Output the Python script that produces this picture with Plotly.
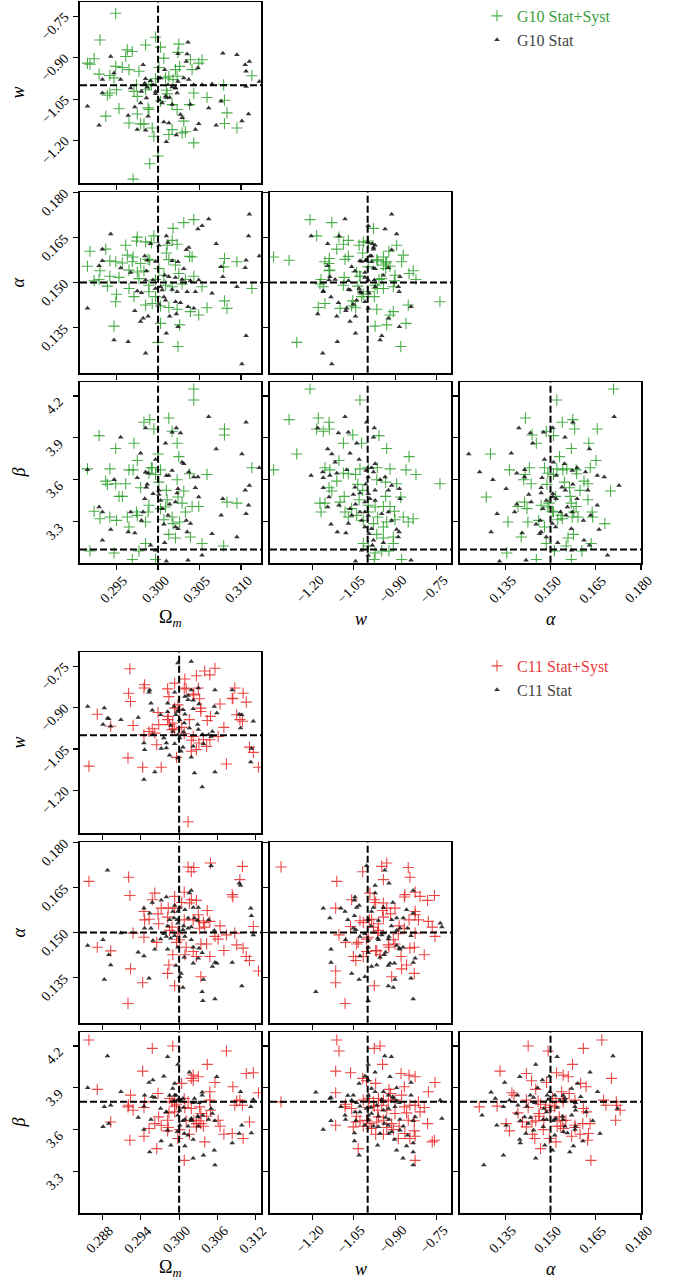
import plotly.graph_objects as go

# ---------------- data ----------------
# G10 Stat+Syst : (Omega_m, alpha), (w, beta) from the w-beta panel
G10_SYST_OM = [0.3043, 0.3031, 0.3018, 0.2975, 0.2974, 0.2995, 0.2961, 0.2985, 0.2992, 0.3017,
               0.3023, 0.3011, 0.2918, 0.2937, 0.2963, 0.2970, 0.2988, 0.2990, 0.3010, 0.3013,
               0.3038, 0.3041, 0.3080, 0.3095, 0.3079, 0.2915, 0.2942, 0.2949, 0.2957, 0.2969,
               0.2979, 0.2930, 0.2965, 0.2975, 0.2983, 0.3001, 0.3021, 0.2942, 0.2923, 0.2929,
               0.2953, 0.2977, 0.2997, 0.3007, 0.3025, 0.3033, 0.3043, 0.2939, 0.2965, 0.2989,
               0.3009, 0.3017, 0.3029, 0.3053, 0.3113, 0.2950, 0.2971, 0.2989, 0.2997, 0.2949,
               0.2985, 0.2993, 0.3003, 0.3013, 0.3023, 0.3039, 0.3059, 0.3049, 0.3080, 0.3083,
               0.2947, 0.3003, 0.3026, 0.3000, 0.3024]
G10_SYST_AL = [0.1709, 0.1699, 0.1680, 0.1651, 0.1638, 0.1655, 0.1624, 0.1635, 0.1632, 0.1640,
               0.1627, 0.1624, 0.1604, 0.1611, 0.1591, 0.1585, 0.1577, 0.1574, 0.1598, 0.1576,
               0.1587, 0.1585, 0.1580, 0.1569, 0.1552, 0.1554, 0.1572, 0.1569, 0.1565, 0.1569,
               0.1563, 0.1539, 0.1541, 0.1535, 0.1539, 0.1546, 0.1558, 0.1521, 0.1506, 0.1510,
               0.1517, 0.1513, 0.1510, 0.1524, 0.1530, 0.1510, 0.1521, 0.1488, 0.1480, 0.1491,
               0.1491, 0.1486, 0.1495, 0.1486, 0.1480, 0.1461, 0.1453, 0.1469, 0.1453, 0.1436,
               0.1425, 0.1430, 0.1422, 0.1417, 0.1411, 0.1403, 0.1416, 0.1392, 0.1439, 0.1414,
               0.1355, 0.1364, 0.1359, 0.1301, 0.1287]
G10_SYST_W = [-1.209, -1.028, -1.285, -1.179, -1.140, -1.185, -1.161, -1.139, -1.054, -0.959,
              -1.088, -1.022, -0.931, -1.257, -0.850, -1.341, -1.155, -1.137, -1.104, -1.088,
              -1.070, -1.044, -1.028, -0.998, -0.965, -0.919, -0.861, -0.825, -1.112, -0.738,
              -1.140, -1.130, -1.036, -1.018, -0.967, -0.935, -0.895, -1.173, -1.155, -1.100,
              -1.085, -1.031, -0.998, -0.935, -0.880, -1.169, -1.082, -1.058, -1.040, -0.998,
              -0.973, -0.943, -0.919, -0.903, -1.070, -1.016, -0.964, -0.931, -0.901, -0.871,
              -0.853, -0.835, -0.979, -0.943, -0.967, -0.907, -0.943, -1.016, -0.907, -0.998,
              -0.973, -0.949, -0.923, -0.976, -0.877]
G10_SYST_BE = [4.250, 4.171, 4.031, 4.042, 4.012, 3.964, 3.947, 3.964, 3.921, 3.916,
               3.862, 3.862, 3.824, 3.785, 3.766, 3.671, 3.686, 3.671, 3.738, 3.647,
               3.643, 3.638, 3.678, 3.686, 3.686, 3.678, 3.671, 3.638, 3.590, 3.571,
               3.543, 3.519, 3.567, 3.524, 3.600, 3.583, 3.571, 3.433, 3.433, 3.440,
               3.481, 3.457, 3.417, 3.481, 3.476, 3.369, 3.369, 3.393, 3.345, 3.369,
               3.405, 3.409, 3.409, 3.374, 3.333, 3.309, 3.333, 3.298, 3.314, 3.333,
               3.298, 3.321, 3.286, 3.262, 3.209, 3.190, 3.183, 3.143, 3.143, 3.126,
               3.076, 3.090, 3.090, 3.029, 3.029]

# G10 Stat
G10_STAT_OM = [0.3061, 0.3110, 0.3053, 0.3048, 0.2943, 0.3010, 0.3012, 0.3070, 0.3109, 0.2991,
               0.3001, 0.2933, 0.3037, 0.3034, 0.3122, 0.2933, 0.2955, 0.2929, 0.2984, 0.2987,
               0.2997, 0.3017, 0.3024, 0.3031, 0.3076, 0.3106, 0.3105, 0.2967, 0.2986, 0.3008,
               0.3013, 0.3021, 0.3029, 0.3078, 0.2985, 0.2994, 0.3039, 0.3049, 0.3095, 0.2975,
               0.2980, 0.2997, 0.3003, 0.3017, 0.3023, 0.3035, 0.3045, 0.3065, 0.2915, 0.3007,
               0.3009, 0.3021, 0.3027, 0.3001, 0.3036, 0.3043, 0.2972, 0.2988, 0.2982, 0.2979,
               0.3014, 0.3022, 0.3024, 0.3010, 0.2947, 0.2964, 0.2985, 0.3106, 0.3101, 0.3005]
G10_STAT_AL = [0.1711, 0.1727, 0.1689, 0.1678, 0.1661, 0.1655, 0.1633, 0.1629, 0.1655, 0.1629,
               0.1624, 0.1611, 0.1616, 0.1609, 0.1588, 0.1572, 0.1548, 0.1556, 0.1588, 0.1574,
               0.1570, 0.1572, 0.1569, 0.1546, 0.1552, 0.1574, 0.1549, 0.1533, 0.1538, 0.1524,
               0.1519, 0.1517, 0.1510, 0.1519, 0.1508, 0.1508, 0.1506, 0.1508, 0.1486, 0.1472,
               0.1466, 0.1480, 0.1486, 0.1477, 0.1469, 0.1469, 0.1469, 0.1464, 0.1414, 0.1452,
               0.1441, 0.1436, 0.1433, 0.1428, 0.1419, 0.1414, 0.1406, 0.1388, 0.1381, 0.1370,
               0.1388, 0.1395, 0.1353, 0.1331, 0.1309, 0.1303, 0.1265, 0.1323, 0.1229, 0.1475]
G10_STAT_W = [-1.082, -1.181, -1.106, -1.070, -0.976, -1.004, -0.979, -1.145, -1.130, -1.064,
              -1.040, -1.031, -1.118, -0.973, -0.986, -1.205, -1.163, -1.112, -1.076, -1.161,
              -1.137, -1.006, -0.979, -0.937, -0.955, -0.998, -1.161, -1.140, -1.046, -1.007,
              -0.973, -0.913, -0.885, -1.052, -1.028, -0.998, -0.925, -1.145, -1.104, -1.064,
              -1.044, -1.010, -0.973, -0.883, -1.058, -1.028, -0.998, -0.949, -0.925, -1.133,
              -1.022, -1.010, -0.986, -0.913, -0.895, -1.110, -1.079, -0.995, -0.889, -0.943,
              -1.022, -0.979, -0.998, -1.044, -0.843, -0.886, -1.070, -1.010, -0.992, -0.983]
G10_STAT_BE = [4.052, 3.971, 3.935, 3.940, 3.971, 4.012, 3.904, 3.821, 3.785, 3.790,
               3.862, 3.745, 3.726, 3.714, 3.686, 3.631, 3.655, 3.647, 3.671, 3.614,
               3.631, 3.666, 3.655, 3.619, 3.600, 3.619, 3.543, 3.476, 3.547, 3.567,
               3.524, 3.559, 3.536, 3.495, 3.505, 3.500, 3.524, 3.405, 3.417, 3.393,
               3.424, 3.440, 3.452, 3.464, 3.345, 3.369, 3.345, 3.357, 3.369, 3.281,
               3.309, 3.262, 3.250, 3.309, 3.243, 3.226, 3.219, 3.214, 3.190, 3.148,
               3.095, 3.167, 3.060, 3.017, 3.024, 3.226, 3.286, 3.369, 3.464, 3.131]

# C11 Stat+Syst
C11_SYST_OM = [0.2859, 0.2921, 0.2923, 0.3014, 0.3023, 0.3019, 0.3049, 0.3099, 0.3095, 0.3083,
               0.3084, 0.2962, 0.2958, 0.2993, 0.3008, 0.3019, 0.3027, 0.3004, 0.2972, 0.2983,
               0.2993, 0.2945, 0.2967, 0.2982, 0.3044, 0.2946, 0.2953, 0.3008, 0.3016, 0.3022,
               0.3031, 0.2968, 0.3032, 0.3040, 0.3048, 0.3064, 0.3116, 0.2928, 0.2945, 0.2985,
               0.2998, 0.3056, 0.3061, 0.3074, 0.3087, 0.2965, 0.2996, 0.3011, 0.3022, 0.3034,
               0.3043, 0.3090, 0.3100, 0.2872, 0.2893, 0.2990, 0.3009, 0.3027, 0.3048, 0.3070,
               0.3105, 0.3110, 0.2984, 0.2924, 0.2982, 0.3124, 0.3034, 0.2943, 0.2993, 0.2920,
               0.2989, 0.3001, 0.3030, 0.3038]
C11_SYST_AL = [0.1670, 0.1684, 0.1623, 0.1718, 0.1716, 0.1702, 0.1731, 0.1720, 0.1676, 0.1626,
               0.1618, 0.1631, 0.1609, 0.1620, 0.1634, 0.1609, 0.1607, 0.1600, 0.1581, 0.1581,
               0.1581, 0.1570, 0.1562, 0.1551, 0.1573, 0.1542, 0.1544, 0.1542, 0.1598, 0.1542,
               0.1539, 0.1529, 0.1514, 0.1518, 0.1537, 0.1522, 0.1520, 0.1498, 0.1484, 0.1507,
               0.1496, 0.1487, 0.1478, 0.1492, 0.1498, 0.1467, 0.1467, 0.1451, 0.1437, 0.1462,
               0.1462, 0.1459, 0.1448, 0.1451, 0.1439, 0.1426, 0.1426, 0.1420, 0.1420, 0.1440,
               0.1420, 0.1407, 0.1392, 0.1379, 0.1364, 0.1372, 0.1353, 0.1333, 0.1323, 0.1264,
               0.1518, 0.1476, 0.1559, 0.1533]
C11_SYST_W = [-1.112, -1.104, -0.976, -0.955, -0.946, -1.116, -1.062, -1.018, -1.004, -0.971,
              -0.879, -0.850, -0.828, -0.756, -0.867, -0.923, -0.917, -1.116, -0.780, -1.314,
              -1.080, -1.058, -1.016, -0.994, -0.979, -0.961, -0.943, -0.925, -0.901, -0.877,
              -0.867, -0.847, -0.828, -0.810, -0.795, -0.816, -0.976, -0.964, -0.931, -0.901,
              -1.116, -1.043, -1.028, -1.016, -1.004, -0.992, -0.967, -0.943, -0.913, -0.886,
              -0.853, -0.831, -0.783, -0.971, -0.943, -0.907, -0.889, -0.865, -0.847, -0.828,
              -0.831, -0.766, -0.758, -1.034, -0.828, -1.052, -0.986, -1.082, -0.998, -0.949,
              -1.040, -0.931, -0.859, -0.961]
C11_SYST_BE = [4.243, 4.164, 4.183, 4.200, 4.068, 4.020, 4.008, 3.968, 3.951, 3.932,
               4.003, 3.991, 3.980, 3.939, 3.908, 3.889, 3.860, 3.865, 3.872, 3.800,
               3.783, 3.752, 3.812, 3.824, 3.800, 3.824, 3.812, 3.805, 3.812, 3.848,
               3.764, 3.776, 3.776, 3.728, 3.759, 3.800, 3.769, 3.740, 3.740, 3.716,
               3.632, 3.656, 3.664, 3.625, 3.668, 3.644, 3.656, 3.668, 3.644, 3.625,
               3.668, 3.664, 3.644, 3.568, 3.568, 3.601, 3.537, 3.573, 3.537, 3.554,
               3.592, 3.513, 3.525, 3.465, 3.381, 3.621, 3.609, 3.764, 3.759, 3.776,
               3.697, 3.616, 3.721, 3.692]

# C11 Stat
C11_STAT_OM = [0.2888, 0.3050, 0.3094, 0.3096, 0.3019, 0.3016, 0.2980, 0.2972, 0.2958, 0.2945,
               0.2993, 0.3001, 0.3009, 0.3022, 0.3030, 0.2990, 0.2998, 0.2954, 0.2992, 0.2997,
               0.3024, 0.3029, 0.3046, 0.3112, 0.3113, 0.2946, 0.2956, 0.2982, 0.3007, 0.3014,
               0.2909, 0.3019, 0.2976, 0.2980, 0.2987, 0.2993, 0.3006, 0.2959, 0.2971, 0.3055,
               0.3116, 0.2881, 0.2857, 0.3019, 0.3022, 0.3031, 0.2982, 0.2962, 0.2936, 0.2890,
               0.2945, 0.3008, 0.3036, 0.3030, 0.2998, 0.2893, 0.3022, 0.2995, 0.3056, 0.3059,
               0.3052, 0.3083, 0.3003, 0.3001, 0.2953, 0.2883, 0.3038, 0.3006, 0.3098, 0.3036,
               0.3037, 0.3056, 0.2998, 0.3014, 0.2985, 0.3009]
C11_STAT_AL = [0.1707, 0.1722, 0.1664, 0.1656, 0.1640, 0.1631, 0.1618, 0.1607, 0.1600, 0.1581,
               0.1590, 0.1583, 0.1576, 0.1583, 0.1583, 0.1570, 0.1570, 0.1564, 0.1548, 0.1542,
               0.1548, 0.1540, 0.1542, 0.1581, 0.1556, 0.1514, 0.1514, 0.1522, 0.1522, 0.1514,
               0.1498, 0.1518, 0.1496, 0.1487, 0.1481, 0.1489, 0.1509, 0.1473, 0.1478, 0.1507,
               0.1492, 0.1476, 0.1457, 0.1476, 0.1451, 0.1448, 0.1444, 0.1444, 0.1434, 0.1426,
               0.1422, 0.1418, 0.1433, 0.1414, 0.1451, 0.1392, 0.1398, 0.1390, 0.1400, 0.1398,
               0.1387, 0.1400, 0.1364, 0.1353, 0.1348, 0.1344, 0.1344, 0.1317, 0.1322, 0.1303,
               0.1273, 0.1279, 0.1531, 0.1548, 0.1542, 0.1487]
C11_STAT_W = [-0.938, -0.914, -0.998, -0.973, -1.010, -0.919, -1.031, -0.998, -0.843, -0.986,
              -0.895, -1.188, -1.137, -1.133, -1.072, -1.052, -0.998, -0.973, -0.943, -0.925,
              -0.909, -0.843, -1.058, -1.040, -0.949, -0.907, -0.895, -0.886, -0.737, -1.097,
              -1.028, -1.004, -0.988, -0.967, -1.046, -1.028, -0.986, -0.943, -0.925, -0.901,
              -1.082, -1.080, -0.998, -0.961, -0.935, -0.923, -0.883, -0.828, -0.835, -0.731,
              -1.133, -1.161, -1.043, -1.010, -0.979, -0.961, -0.925, -0.913, -0.883, -0.871,
              -1.048, -0.955, -0.923, -0.855, -0.903, -1.048, -0.964, -0.835, -0.859, -0.895,
              -1.031, -0.835, -0.872, -0.835, -0.998, -0.940]
C11_STAT_BE = [4.128, 4.123, 4.068, 4.011, 3.984, 3.980, 3.932, 3.956, 3.939, 3.896,
               3.901, 3.869, 3.824, 3.831, 3.845, 3.848, 3.848, 3.872, 3.872, 3.848,
               3.836, 3.848, 3.812, 3.793, 3.817, 3.824, 3.807, 3.793, 3.812, 3.764,
               3.769, 3.752, 3.759, 3.776, 3.728, 3.728, 3.716, 3.740, 3.752, 3.764,
               3.704, 3.673, 3.704, 3.697, 3.688, 3.673, 3.673, 3.692, 3.664, 3.680,
               3.664, 3.601, 3.664, 3.632, 3.625, 3.621, 3.632, 3.585, 3.597, 3.625,
               3.577, 3.573, 3.573, 3.561, 3.530, 3.520, 3.489, 3.506, 3.484, 3.453,
               3.417, 3.441, 3.396, 3.348, 3.673, 3.644]

TRUTH_TOP = {"om": 0.300, "w": -1.0, "al": 0.150, "be": 3.10}
TRUTH_BOT = {"om": 0.300, "w": -1.0, "al": 0.150, "be": 3.80}

TICKS_TOP = {"om": [0.295, 0.300, 0.305, 0.310], "w": [-1.20, -1.05, -0.90, -0.75],
             "al": [0.135, 0.150, 0.165, 0.180], "be": [3.3, 3.6, 3.9, 4.2]}
TICKS_BOT = {"om": [0.288, 0.294, 0.300, 0.306, 0.312], "w": [-1.20, -1.05, -0.90, -0.75],
             "al": [0.135, 0.150, 0.165, 0.180], "be": [3.3, 3.6, 3.9, 4.2]}

LEGEND_TOP = ["G10 Stat+Syst", "G10 Stat"]
LEGEND_BOT = ["C11 Stat+Syst", "C11 Stat"]

# ---------------- styling / layout ----------------
W, H = 680, 1284
FONT = "Liberation Serif"
TICK_SIZE = 14
GREEN = "rgba(44,160,44,0.85)"
RED = "rgba(232,30,30,0.82)"
DARK = "rgba(20,20,20,0.85)"

RANGE_TOP = {"om": [0.2906, 0.3124], "w": [-1.354, -0.698], "al": [0.12, 0.18], "be": [3.006, 4.298]}
RANGE_BOT = {"om": [0.2845, 0.3128], "w": [-1.354, -0.698], "al": [0.12, 0.18], "be": [3.006, 4.298]}

COLS_PX = [(80, 261), (270, 451), (460, 641)]
ROWS_PX = [[(2.3, 182.7), (192.3, 372.7), (382.3, 562.7)],
           [(652.3, 832.7), (842.3, 1022.7), (1032.3, 1212.7)]]

PANELS = [(0, 0, "om", "w"), (1, 0, "om", "al"), (1, 1, "w", "al"),
          (2, 0, "om", "be"), (2, 1, "w", "be"), (2, 2, "al", "be")]

LABELS = {"om": "Ω<sub><i>m</i></sub>", "w": "<i>w</i>", "al": "<i>α</i>", "be": "<i>β</i>"}
FMT = {"om": "{:.3f}", "w": "{:.2f}", "al": "{:.3f}", "be": "{:.1f}"}


def fmt(p, v):
    return FMT[p].format(v).replace("-", "\u2212")


def samples(om, al, w, be, stride=31):
    n = len(w)
    idx = [(i * stride) % n for i in range(len(om))]
    return {"om": om, "al": al, "w": [w[j] for j in idx], "be": [be[j] for j in idx]}


blocks = [
    dict(syst=samples(G10_SYST_OM, G10_SYST_AL, G10_SYST_W, G10_SYST_BE),
         stat=samples(G10_STAT_OM, G10_STAT_AL, G10_STAT_W, G10_STAT_BE),
         color=GREEN, text_color="#3a9e3a", names=LEGEND_TOP, truth=TRUTH_TOP,
         ranges=RANGE_TOP, ticks=TICKS_TOP, legend="legend"),
    dict(syst=samples(C11_SYST_OM, C11_SYST_AL, C11_SYST_W, C11_SYST_BE),
         stat=samples(C11_STAT_OM, C11_STAT_AL, C11_STAT_W, C11_STAT_BE),
         color=RED, text_color="#e83a3a", names=LEGEND_BOT, truth=TRUTH_BOT,
         ranges=RANGE_BOT, ticks=TICKS_BOT, legend="legend2"),
]

fig = go.Figure()
layout = dict(width=W, height=H, margin=dict(l=0, r=0, t=0, b=0, autoexpand=False), autosize=False,
              paper_bgcolor="white", plot_bgcolor="white",
              font=dict(family=FONT, color="black", size=12))
shapes = []
annotations = []
tickfont = dict(family=FONT, size=TICK_SIZE, color="black")

for b, blk in enumerate(blocks):
    for j, (r, c, px, py) in enumerate(PANELS):
        k = b * 6 + j + 1
        sfx = "" if k == 1 else str(k)
        x0, x1 = COLS_PX[c]
        y0, y1 = ROWS_PX[b][r]
        common = dict(showline=True, mirror=True, linecolor="black", linewidth=1.8,
                      ticks="outside", ticklen=5, tickwidth=1.2, tickcolor="black",
                      showgrid=False, zeroline=False, showticklabels=False, automargin=False)
        layout["xaxis" + sfx] = dict(common, domain=[x0 / W, x1 / W], range=blk["ranges"][px],
                                     anchor="y" + sfx, tickvals=blk["ticks"][px])
        layout["yaxis" + sfx] = dict(common, domain=[1 - y1 / H, 1 - y0 / H], range=blk["ranges"][py],
                                     anchor="x" + sfx, tickvals=blk["ticks"][py])
        # tick labels rotated by 45 degrees, centred as in the original
        if r == 2:
            for v in blk["ticks"][px]:
                annotations.append(dict(text=fmt(px, v), xref="x" + sfx, yref="paper", x=v,
                                        y=1 - (y1 + 27) / H, xshift=-2.5, textangle=-45,
                                        xanchor="center", yanchor="middle", showarrow=False,
                                        font=tickfont))
        if c == 0:
            for v in blk["ticks"][py]:
                annotations.append(dict(text=fmt(py, v), xref="paper", yref="y" + sfx,
                                        x=(x0 - 25) / W, y=v, yshift=-10, textangle=-45,
                                        xanchor="center", yanchor="middle", showarrow=False,
                                        font=tickfont))
        fig.add_trace(go.Scatter(
            x=blk["syst"][px], y=blk["syst"][py], xaxis="x" + sfx, yaxis="y" + sfx,
            mode="markers", name='<span style="color:%s">%s</span>' % (blk["text_color"], blk["names"][0]),
            marker=dict(symbol="cross-thin", size=8, color=blk["color"],
                        line=dict(width=1.1, color=blk["color"])),
            showlegend=(j == 0), legend=blk["legend"], hoverinfo="skip"))
        fig.add_trace(go.Scatter(
            x=blk["stat"][px], y=blk["stat"][py], xaxis="x" + sfx, yaxis="y" + sfx,
            mode="markers", name='<span style="color:#444444">%s</span>' % blk["names"][1],
            marker=dict(symbol="triangle-up", size=5, color=DARK, line=dict(width=0)),
            showlegend=(j == 0), legend=blk["legend"], hoverinfo="skip"))
        dash = dict(color="black", width=2, dash="7px,3px")
        shapes.append(dict(type="line", xref="x" + sfx, yref="y" + sfx + " domain",
                           x0=blk["truth"][px], x1=blk["truth"][px], y0=0, y1=1, line=dash))
        shapes.append(dict(type="line", xref="x" + sfx + " domain", yref="y" + sfx,
                           x0=0, x1=1, y0=blk["truth"][py], y1=blk["truth"][py], line=dash))

    # axis titles
    for r, p in enumerate(["w", "al", "be"]):
        y0, y1 = ROWS_PX[b][r]
        annotations.append(dict(text=LABELS[p], xref="paper", yref="paper", x=18 / W,
                                y=1 - (y0 + y1) / 2 / H, showarrow=False, textangle=-90,
                                xanchor="center", yanchor="middle",
                                font=dict(family=FONT, size=18, color="black")))
    ybase = ROWS_PX[b][2][1]
    for c, p in enumerate(["om", "w", "al"]):
        x0, x1 = COLS_PX[c]
        annotations.append(dict(text=LABELS[p], xref="paper", yref="paper", x=(x0 + x1) / 2 / W,
                                y=1 - (ybase + 56) / H, showarrow=False,
                                xanchor="center", yanchor="middle",
                                font=dict(family=FONT, size=18, color="black")))

legend_common = dict(xanchor="left", yanchor="top", bgcolor="rgba(0,0,0,0)",
                     font=dict(family=FONT, size=16), tracegroupgap=0, itemwidth=30,
                     borderwidth=0)
layout["legend"] = dict(legend_common, x=477 / W, y=1 + 1 / H)
layout["legend2"] = dict(legend_common, x=477 / W, y=1 - 649 / H)
layout["shapes"] = shapes
layout["annotations"] = annotations
layout["showlegend"] = True
fig.update_layout(**layout)

fig.write_html("out.html", config={"displayModeBar": False, "staticPlot": True},
               post_script="document.body.style.margin='0';document.body.style.padding='0';"
                           "document.documentElement.style.overflow='hidden';")
